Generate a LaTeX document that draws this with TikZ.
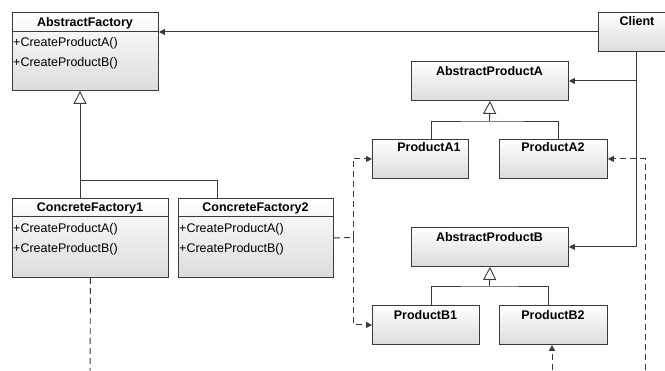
\documentclass[tikz,border=0pt]{standalone}
\usepackage{fontspec}
\setmainfont{Liberation Sans}
\usetikzlibrary{arrows.meta}
\definecolor{linegray}{HTML}{3A3A3A}
\definecolor{boxbot}{HTML}{DCDCDC}
\begin{document}
\begin{tikzpicture}[x=1pt, y=-1pt,
  cls/.style={draw=linegray, line width=0.9pt, top color=white, bottom color=boxbot,
              inner sep=0pt, anchor=north west},
  title/.style={font=\fontsize{12.5}{14}\selectfont\bfseries, inner sep=0pt, anchor=base},
  meth/.style={font=\fontsize{12.5}{14}\selectfont, inner sep=0pt, anchor=base west},
  rel/.style={draw=linegray, line width=0.9pt},
  assoc/.style={rel, -{Triangle[length=6pt,width=6pt]}},
  dep/.style={rel, dash pattern=on 6pt off 4pt},
  deparrow/.style={dep, -{Triangle[length=6pt,width=6pt]}},
  gen/.style={rel, -{Triangle[open, length=13pt, width=13pt, fill=white]}}
]
\useasboundingbox (0,0) rectangle (665,371);

% ---- factory classes ----
\node[cls, minimum width=146pt, minimum height=78pt] (af) at (12,12) {};
\draw[rel] (af.west |- 0,31) -- (af.east |- 0,31);
\node[title] (aftitle) at (85,27) {AbstractFactory};
\node[meth] (afm1) at (13,46.7) {+CreateProductA()};
\node[meth] (afm2) at (13,66.7) {+CreateProductB()};

\node[cls, minimum width=156pt, minimum height=79pt] (cf1) at (12,198) {};
\draw[rel] (cf1.west |- 0,216) -- (cf1.east |- 0,216);
\node[title] (cf1title) at (90,212) {ConcreteFactory1};
\node[meth] (cf1m1) at (13,233) {+CreateProductA()};
\node[meth] (cf1m2) at (13,253) {+CreateProductB()};

\node[cls, minimum width=155pt, minimum height=79pt] (cf2) at (178,198) {};
\draw[rel] (cf2.west |- 0,216) -- (cf2.east |- 0,216);
\node[title] (cf2title) at (255.5,212) {ConcreteFactory2};
\node[meth] (cf2m1) at (179,233) {+CreateProductA()};
\node[meth] (cf2m2) at (179,253) {+CreateProductB()};

% ---- client ----
\node[cls, minimum width=78pt, minimum height=39pt] (client) at (598,12) {};
\node[title] (clienttitle) at (637,26) {Client};

% ---- product classes ----
\node[cls, minimum width=157pt, minimum height=39pt] (apa) at (411,61) {};
\node[title] (apatitle) at (489.5,76) {AbstractProductA};
\node[cls, minimum width=96pt, minimum height=39pt] (pa1) at (372,139) {};
\node[title] (pa1title) at (429,152) {ProductA1};
\node[cls, minimum width=108pt, minimum height=39pt] (pa2) at (499,139) {};
\node[title] (pa2title) at (553,152) {ProductA2};

\node[cls, minimum width=157pt, minimum height=39pt] (apb) at (411,227) {};
\node[title] (apbtitle) at (489.5,242) {AbstractProductB};
\node[cls, minimum width=107pt, minimum height=39pt] (pb1) at (372,305) {};
\node[title] (pb1title) at (425.5,320) {ProductB1};
\node[cls, minimum width=108pt, minimum height=39pt] (pb2) at (499,305) {};
\node[title] (pb2title) at (553,320) {ProductB2};

% ---- generalisations ----
\coordinate (f1top) at (80,198);
\coordinate (f2top) at (217,198);
\coordinate (jf) at (80,180);
\draw[rel] (f1top) -- (jf) -| (f2top);
\draw[gen] (jf) -- (af.south -| jf);

\coordinate (a1top) at (431,139);
\coordinate (a2top) at (558,139);
\coordinate (ja) at (489.5,121);
\draw[rel] (a1top) |- (ja) -| (a2top);
\draw[gen] (ja) -- (apa.south);

\coordinate (b1top) at (431,305);
\coordinate (b2top) at (548,305);
\coordinate (jb) at (489.5,286);
\draw[rel] (b1top) |- (jb) -| (b2top);
\draw[gen] (jb) -- (apb.south);

% ---- client associations ----
\draw[assoc] (client.west) -- (client.west -| af.east);
\coordinate (cl) at (636,51);
\draw[assoc] (cl) |- (apb.east);
\draw[assoc] (cl |- apa.east) -- (apa.east);

% ---- dependencies ----
\coordinate (dj) at (353,237.5);
\draw[dep] (cf2.east) -- (dj);
\draw[deparrow] (dj) |- (pa1.west);
\draw[deparrow] (dj) |- (pb1.west);

\coordinate (cf1end) at (90,380);
\draw[dep] (cf1.south) -- (cf1end);

\coordinate (rend) at (645,380);
\draw[deparrow] (rend) |- (pa2.east);

\coordinate (b2end) at (552,380);
\draw[deparrow] (b2end) -- (b2end |- pb2.south);
\end{tikzpicture}
\end{document}
